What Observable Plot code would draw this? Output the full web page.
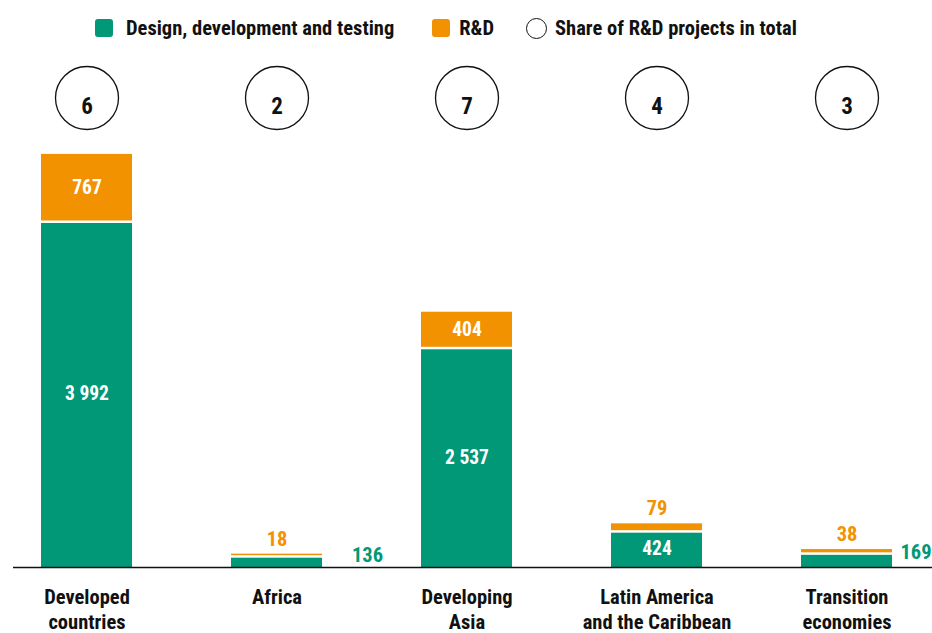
<!DOCTYPE html>
<html>
<head>
<meta charset="utf-8">
<script src="https://cdn.jsdelivr.net/npm/d3@7"></script>
<script src="https://cdn.jsdelivr.net/npm/@observablehq/plot@0.6"></script>
<style>
  html, body { margin: 0; padding: 0; background: #fff; }
  body { width: 932px; height: 633px; overflow: hidden; font-family: "Liberation Sans Narrow", "Roboto Condensed", "Arial Narrow", sans-serif; }
  #legend { height: 56px; display: flex; align-items: center; padding-left: 95px; font-size: 20.5px; font-weight: bold; color: #111; box-sizing: border-box; }
  .item { display: flex; align-items: center; margin-right: 38px; }
  .sw { width: 18px; height: 18px; border-radius: 3px; margin-right: 13px; }
  .circ { width: 21px; height: 21px; border-radius: 50%; border: 1.5px solid #111; margin-right: 8px; box-sizing: border-box; }
  #chart svg { display: block; }
</style>
</head>
<body>
<div id="legend"></div>
<div id="chart"></div>
<script>
const categories = ["Developed\ncountries", "Africa", "Developing\nAsia", "Latin America\nand the Caribbean", "Transition\neconomies"];
const designDev = [3992, 136, 2537, 424, 169];
const rnd = [767, 18, 404, 79, 38];
const rndShare = [6, 2, 7, 4, 3];
const seriesNames = ["Design, development and testing", "R&D", "Share of R&D projects in total"];

const GREEN = "#009877";
const ORANGE = "#f39200";
const FONT = '"Liberation Sans Narrow", "Roboto Condensed", "Arial Narrow", sans-serif';

// legend
const legend = document.getElementById("legend");
legend.innerHTML = `
  <div class="item"><div class="sw" style="background:${GREEN}"></div>${seriesNames[0]}</div>
  <div class="item"><div class="sw" style="background:${ORANGE};margin-right:9px"></div>${seriesNames[1]}</div>
  <div class="item" style="margin-left:-6px"><div class="circ"></div>${seriesNames[2]}</div>`;

const rows = categories.map((c, i) => ({cat: c, ddt: designDev[i], rd: rnd[i], share: rndShare[i], total: designDev[i] + rnd[i], last: i === categories.length - 1}));
const fmt = d3.formatLocale({decimal: ".", thousands: " ", grouping: [3], currency: ["", ""]}).format(",d");

const INSIDE = 300;

const chart = Plot.plot({
  width: 932,
  height: 577,
  marginLeft: 13,
  marginRight: 0,
  marginTop: 41.5,
  marginBottom: 66,
  style: {fontFamily: FONT, fontWeight: "bold", fontSize: "19px", color: "#111", background: "#fff"},
  x: {domain: categories, paddingInner: 0.52, paddingOuter: 0.175, align: 0.412, label: null},
  y: {domain: [0, 5409], axis: null},
  marks: [
    Plot.barY(rows, {x: "cat", y1: 0, y2: "ddt", fill: GREEN, insetTop: 2.5}),
    Plot.barY(rows, {x: "cat", y1: "ddt", y2: "total", fill: ORANGE}),
    Plot.ruleY([0], {stroke: "#111", strokeWidth: 1.5}),
    Plot.axisX({tickSize: 0, tickPadding: 19, fontSize: 20.5, lineHeight: 1.2, fill: "#111", fontWeight: "bold", label: null}),
    // inside labels
    Plot.text(rows.filter(d => d.ddt >= INSIDE), {x: "cat", y: d => d.ddt / 2, text: d => fmt(d.ddt), fill: "white", fontSize: 19.5, fontWeight: "bold"}),
    Plot.text(rows.filter(d => d.rd >= INSIDE), {x: "cat", y: d => d.ddt + d.rd / 2, text: d => fmt(d.rd), fill: "white", fontSize: 19.5, fontWeight: "bold"}),
    // outside labels
    Plot.text(rows.filter(d => d.rd < INSIDE), {x: "cat", y: "total", dy: -15, text: d => fmt(d.rd), fill: ORANGE, fontSize: 20.5, fontWeight: "bold"}),
    Plot.text(rows.filter(d => d.ddt < INSIDE && !d.last), {x: "cat", y: "ddt", dx: 75, textAnchor: "start", text: d => fmt(d.ddt), fill: GREEN, fontSize: 20.5, fontWeight: "bold"}),
    Plot.text(rows.filter(d => d.ddt < INSIDE && d.last), {y: "ddt", frameAnchor: "right", textAnchor: "end", dx: -1, text: d => fmt(d.ddt), fill: GREEN, fontSize: 20.5, fontWeight: "bold"}),
    // share circles
    Plot.dot(rows, {x: "cat", frameAnchor: "top", r: 31.5, fill: "white", stroke: "#111", strokeWidth: 1.3}),
    Plot.text(rows, {x: "cat", frameAnchor: "top", text: d => String(d.share), fill: "#111", fontSize: 23, fontWeight: "bold"})
  ]
});
document.getElementById("chart").appendChild(chart);
</script>
</body>
</html>
